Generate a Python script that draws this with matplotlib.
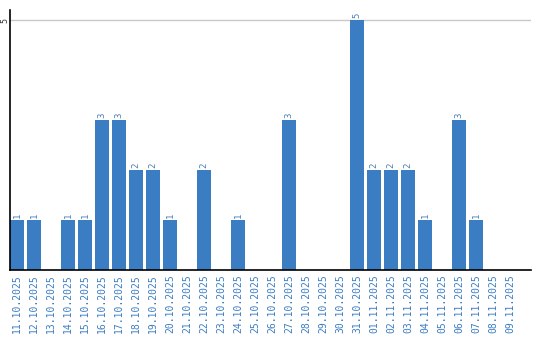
import matplotlib
matplotlib.use("Agg")
import matplotlib.pyplot as plt

dates = ["11.10.2025", "12.10.2025", "13.10.2025", "14.10.2025", "15.10.2025",
         "16.10.2025", "17.10.2025", "18.10.2025", "19.10.2025", "20.10.2025",
         "21.10.2025", "22.10.2025", "23.10.2025", "24.10.2025", "25.10.2025",
         "26.10.2025", "27.10.2025", "28.10.2025", "29.10.2025", "30.10.2025",
         "31.10.2025", "01.11.2025", "02.11.2025", "03.11.2025", "04.11.2025",
         "05.11.2025", "06.11.2025", "07.11.2025", "08.11.2025", "09.11.2025"]
values = [1, 1, 0, 1, 1, 3, 3, 2, 2, 1,
          0, 2, 0, 1, 0, 0, 3, 0, 0, 0,
          5, 2, 2, 2, 1, 0, 3, 1, 0, 0]

bar_color = "#3b7dc3"
text_color = "#3b7dc3"

fig = plt.figure(figsize=(5.4, 3.4), dpi=100)
ax = fig.add_axes([10/540, 70/340, 521/540, 260/340])

x = list(range(len(dates)))
ax.bar(x, values, width=14/17, color=bar_color, zorder=2)
for xi, v in zip(x, values):
    if v > 0:
        ax.text(xi, v + 0.04, str(v), rotation=90, ha="center", va="bottom",
                fontsize=6.5, color="#4a7fb8", family="DejaVu Sans Mono", zorder=3)

ax.set_xlim(-0.41, 30.24)
ax.set_ylim(0, 5.2)
ax.axhline(5, color="#c8c8c8", linewidth=1, zorder=1)

ax.set_xticks(x)
ax.set_xticklabels(dates, rotation=90, fontsize=7, color=text_color,
                   family="DejaVu Sans Mono")
ax.set_yticks([5])
ax.set_yticklabels(["5"], rotation=90, fontsize=6, color="#333333",
                   family="DejaVu Sans Mono", va="center")
ax.tick_params(axis="x", length=0, pad=3)
ax.tick_params(axis="y", length=0, pad=0.5)

for s in ["top", "right"]:
    ax.spines[s].set_visible(False)
ax.spines["left"].set_color("black")
ax.spines["bottom"].set_color("black")
ax.spines["left"].set_linewidth(1.2)
ax.spines["bottom"].set_linewidth(1.2)

fig.savefig("out.png", dpi=100)
